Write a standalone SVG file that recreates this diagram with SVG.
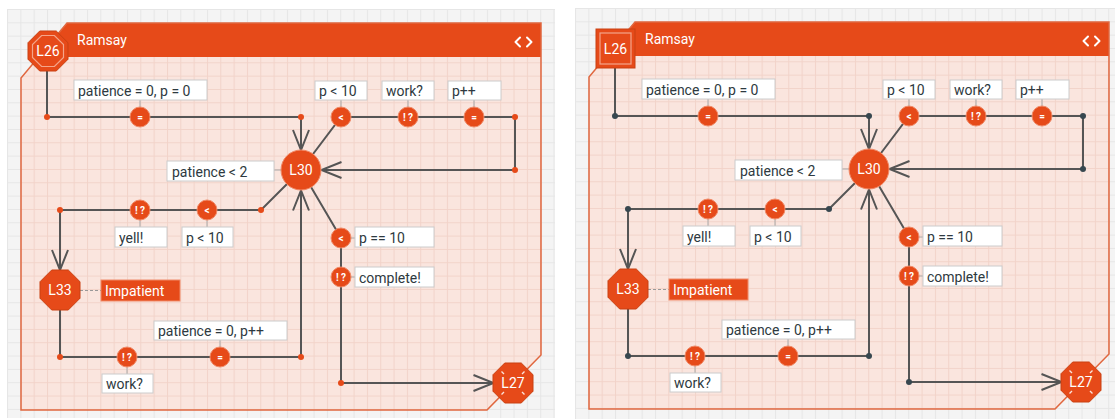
<svg xmlns="http://www.w3.org/2000/svg" width="1115" height="419" viewBox="0 0 1115 419">
<defs>
  <pattern id="gridGray" patternUnits="userSpaceOnUse" x="7" y="9" width="13.33" height="13.33">
    <rect width="13.33" height="13.33" fill="#f4f4f4"/>
    <path d="M0,0.5 H13.33 M0.5,0 V13.33" stroke="#e6e6e6" stroke-width="1"/>
  </pattern>
  <pattern id="gridPink" patternUnits="userSpaceOnUse" x="7" y="9" width="13.33" height="13.33">
    <rect width="13.33" height="13.33" fill="#fae5de"/>
    <path d="M0,0.5 H13.33 M0.5,0 V13.33" stroke="#f2d3c9" stroke-width="1"/>
  </pattern>
  <clipPath id="panelClip">
    <polygon points="67,23 541,23 541,355 487,410 21,410 21,78"/>
  </clipPath>
  <polygon id="oct" points="-8.28,-20 8.28,-20 20,-8.28 20,8.28 8.28,20 -8.28,20 -20,8.28 -20,-8.28"/>
  <polygon id="octIn" points="-6.4,-15.5 6.4,-15.5 15.5,-6.4 15.5,6.4 6.4,15.5 -6.4,15.5 -15.5,6.4 -15.5,-6.4"/>
  <marker id="arrow" markerUnits="userSpaceOnUse" viewBox="-22 -10 24 20" refX="0" refY="0" markerWidth="24" markerHeight="20" orient="auto" overflow="visible">
    <path d="M-20,-8 L0,0 L-20,8" fill="none" stroke="#555" stroke-width="2"/>
  </marker>
</defs>
<style>
  .canvas { fill: url(#gridGray); }
  .panel { fill: url(#gridPink); }
  .panel-edge { fill: none; stroke: #e0673f; stroke-width: 1.5; }
  .header { fill: #e64a19; }
  .title { fill: #ffffff; font-family: Roboto, "Liberation Sans", sans-serif; font-size: 14px; }
  .icon { fill: none; stroke: #ffffff; stroke-width: 2; stroke-linecap: round; stroke-linejoin: round; }
  .wire { fill: none; stroke: #555555; stroke-width: 2; }
  .head { marker-end: url(#arrow); }
  .dot-l { fill: #e64a19; }
  .dot-r { fill: #37474f; }
  .op > circle { fill: #e64a19; stroke: #f08a68; stroke-width: 1; }
  .op > text { fill: #ffffff; font-family: Roboto, "Liberation Sans", sans-serif; font-size: 10px; font-weight: bold; text-anchor: middle; }
  .lbl rect { fill: #ffffff; stroke: #cccccc; stroke-width: 1; }
  .lbl text { fill: #2e3940; font-family: Roboto, "Liberation Sans", sans-serif; font-size: 14px; font-weight: normal; text-anchor: start; }
  .tick { stroke: #a8a8a8; stroke-width: 1; }
  .dash { stroke: #999999; stroke-width: 1.2; stroke-dasharray: 3 2; }
  .state { fill: #e64a19; stroke: #c94112; stroke-width: 1; }
  .ring { fill: none; stroke: #f4a58a; stroke-width: 1.2; }
  .state-txt { fill: #ffffff; font-family: Roboto, "Liberation Sans", sans-serif; font-size: 14px; text-anchor: middle; }
  .tag rect { fill: #e64a19; stroke: #f08a68; stroke-width: 1; }
  .tag text { fill: #ffffff; font-family: Roboto, "Liberation Sans", sans-serif; font-size: 14px; }
  .spark { stroke: #ffffff; stroke-width: 1.4; opacity: 0.85; }
</style>

<rect width="1115" height="419" fill="#ffffff"/>

<!-- ===== Left machine: octagon start node, orange junctions ===== -->
<g id="left">
  <rect class="canvas" x="7" y="9" width="548" height="409"/>
  <polygon class="panel" points="67,23 541,23 541,355 487,410 21,410 21,78"/>
  <rect class="header" x="0" y="23" width="541" height="34" clip-path="url(#panelClip)"/>
  <polygon class="panel-edge" points="67,23 541,23 541,355 487,410 21,410 21,78"/>
  <text class="title" x="77" y="45">Ramsay</text>
  <path class="icon" d="M520,37.5 L515.5,42 L520,46.5 M527,37.5 L531.5,42 L527,46.5"/>

  <g id="left-connectors">
    <path class="wire head" d="M47,71 V117 H301 V150"/>
    <path class="wire head" d="M301,170 L341,117 H515 V170 H321.5"/>
    <path class="wire head" d="M301,170 L261,210 H60 V270"/>
    <path class="wire head" d="M60,310 V357 H301 V190.5"/>
    <path class="wire head" d="M301,170 L341,238 V383 H493.5"/>
    <circle class="dot-l" cx="47" cy="117" r="3"/>
    <circle class="dot-l" cx="301" cy="117" r="3"/>
    <circle class="dot-l" cx="515" cy="117" r="3"/>
    <circle class="dot-l" cx="515" cy="170" r="3"/>
    <circle class="dot-l" cx="261" cy="210" r="3"/>
    <circle class="dot-l" cx="60" cy="210" r="3"/>
    <circle class="dot-l" cx="60" cy="357" r="3"/>
    <circle class="dot-l" cx="301" cy="357" r="3"/>
    <circle class="dot-l" cx="341" cy="383" r="3"/>
  </g>

  <g id="left-L26">
    <use href="#oct" class="state" x="48" y="51"/>
    <use href="#octIn" class="ring" x="48" y="51"/>
    <text class="state-txt" x="48" y="56">L26</text>
  </g>

  <g id="left-L30">
    <line class="tick" x1="274" y1="170" x2="281" y2="170"/>
    <g class="lbl"><rect x="167" y="161" width="107" height="20"/><text x="172" y="176.5">patience &lt; 2</text></g>
    <circle class="state" cx="301" cy="170" r="20" style="stroke:#f08a68"/>
    <text class="state-txt" x="301" y="175">L30</text>
  </g>

  <g id="left-L33">
    <line class="dash" x1="80" y1="290.5" x2="101" y2="290.5"/>
    <use href="#oct" class="state" x="60" y="290"/>
    <text class="state-txt" x="60" y="295">L33</text>
    <g class="tag"><rect x="101" y="280" width="79" height="21"/><text x="105" y="296">Impatient</text></g>
  </g>

  <g id="left-L27">
    <use href="#oct" class="state" x="513" y="383"/>
    <path class="spark" d="M504,374 L501.5,371.5 M522,374 L524.5,371.5 M504,392 L501.5,394.5 M522,392 L524.5,394.5"/>
    <text class="state-txt" x="513" y="388">L27</text>
  </g>

  <g id="left-set-init" class="op">
    <line class="tick" x1="140" y1="100" x2="140" y2="107"/>
    <g class="lbl"><rect x="74" y="80" width="133" height="20"/><text x="78" y="95.5">patience = 0, p = 0</text></g>
    <circle cx="140" cy="117" r="10"/><text x="140" y="120.5">=</text>
  </g>
  <g id="left-guard-top" class="op">
    <line class="tick" x1="341" y1="100" x2="341" y2="107"/>
    <g class="lbl"><rect x="315" y="81" width="52" height="19"/><text x="319" y="95.5">p &lt; 10</text></g>
    <circle cx="341" cy="117" r="10"/><text x="341" y="120.5">&lt;</text>
  </g>
  <g id="left-event-work-top" class="op">
    <line class="tick" x1="408" y1="100" x2="408" y2="107"/>
    <g class="lbl"><rect x="382" y="81" width="52" height="19"/><text x="386" y="95.5">work?</text></g>
    <circle cx="408" cy="117" r="10"/><text x="408" y="120.5">! ?</text>
  </g>
  <g id="left-set-inc" class="op">
    <line class="tick" x1="474" y1="100" x2="474" y2="107"/>
    <g class="lbl"><rect x="448" y="81" width="53" height="19"/><text x="452" y="95.5">p++</text></g>
    <circle cx="474" cy="117" r="10"/><text x="474" y="120.5">=</text>
  </g>
  <g id="left-guard-mid" class="op">
    <line class="tick" x1="207" y1="220" x2="207" y2="227"/>
    <g class="lbl"><rect x="182" y="227" width="51" height="20"/><text x="186" y="242.5">p &lt; 10</text></g>
    <circle cx="207" cy="210" r="10"/><text x="207" y="213.5">&lt;</text>
  </g>
  <g id="left-event-yell" class="op">
    <line class="tick" x1="140" y1="220" x2="140" y2="227"/>
    <g class="lbl"><rect x="115" y="227" width="52" height="20"/><text x="119" y="242.5">yell!</text></g>
    <circle cx="140" cy="210" r="10"/><text x="140" y="213.5">! ?</text>
  </g>
  <g id="left-event-work-bottom" class="op">
    <line class="tick" x1="127" y1="367" x2="127" y2="374"/>
    <g class="lbl"><rect x="102" y="374" width="51" height="19"/><text x="106" y="388.5">work?</text></g>
    <circle cx="127" cy="357" r="10"/><text x="127" y="360.5">! ?</text>
  </g>
  <g id="left-set-reset" class="op">
    <line class="tick" x1="220" y1="340" x2="220" y2="347"/>
    <g class="lbl"><rect x="154" y="321" width="133" height="19"/><text x="158" y="335.5">patience = 0, p++</text></g>
    <circle cx="220" cy="357" r="10"/><text x="220" y="360.5">=</text>
  </g>
  <g id="left-guard-done" class="op">
    <line class="tick" x1="351" y1="238" x2="355" y2="238"/>
    <g class="lbl"><rect x="355" y="227" width="79" height="20"/><text x="359" y="242.5">p == 10</text></g>
    <circle cx="341" cy="238" r="10"/><text x="341" y="241.5">&lt;</text>
  </g>
  <g id="left-event-complete" class="op">
    <line class="tick" x1="351" y1="277" x2="355" y2="277"/>
    <g class="lbl"><rect x="355" y="267" width="79" height="20"/><text x="359" y="282.5">complete!</text></g>
    <circle cx="341" cy="277" r="10"/><text x="341" y="280.5">! ?</text>
  </g>
</g>

<!-- ===== Right machine: square start node, dark junctions ===== -->
<g id="right" transform="translate(568,-1)">
  <rect class="canvas" x="7" y="9" width="548" height="411"/>
  <polygon class="panel" points="67,23 541,23 541,355 487,410 21,410 21,78"/>
  <rect class="header" x="0" y="23" width="541" height="34" clip-path="url(#panelClip)"/>
  <polygon class="panel-edge" points="67,23 541,23 541,355 487,410 21,410 21,78"/>
  <text class="title" x="77" y="45">Ramsay</text>
  <path class="icon" d="M520,37.5 L515.5,42 L520,46.5 M527,37.5 L531.5,42 L527,46.5"/>

  <g id="right-connectors">
    <path class="wire head" d="M47,69 V117 H301 V150"/>
    <path class="wire head" d="M301,170 L341,117 H515 V170 H321.5"/>
    <path class="wire head" d="M301,170 L261,210 H60 V270"/>
    <path class="wire head" d="M60,310 V357 H301 V190.5"/>
    <path class="wire head" d="M301,170 L341,238 V383 H493.5"/>
    <circle class="dot-r" cx="47" cy="117" r="3"/>
    <circle class="dot-r" cx="301" cy="117" r="3"/>
    <circle class="dot-r" cx="515" cy="117" r="3"/>
    <circle class="dot-r" cx="515" cy="170" r="3"/>
    <circle class="dot-r" cx="261" cy="210" r="3"/>
    <circle class="dot-r" cx="60" cy="210" r="3"/>
    <circle class="dot-r" cx="60" cy="357" r="3"/>
    <circle class="dot-r" cx="301" cy="357" r="3"/>
    <circle class="dot-r" cx="341" cy="383" r="3"/>
  </g>

  <g id="right-L26">
    <rect class="state" x="28" y="30" width="39" height="39"/>
    <rect class="ring" x="32" y="34" width="31" height="31"/>
    <text class="state-txt" x="47.5" y="54.5">L26</text>
  </g>

  <g id="right-L30">
    <line class="tick" x1="274" y1="170" x2="281" y2="170"/>
    <g class="lbl"><rect x="167" y="161" width="107" height="20"/><text x="172" y="176.5">patience &lt; 2</text></g>
    <circle class="state" cx="301" cy="170" r="20" style="stroke:#f08a68"/>
    <text class="state-txt" x="301" y="175">L30</text>
  </g>

  <g id="right-L33">
    <line class="dash" x1="80" y1="290.5" x2="101" y2="290.5"/>
    <use href="#oct" class="state" x="60" y="290"/>
    <text class="state-txt" x="60" y="295">L33</text>
    <g class="tag"><rect x="101" y="280" width="79" height="21"/><text x="105" y="296">Impatient</text></g>
  </g>

  <g id="right-L27">
    <use href="#oct" class="state" x="513" y="383"/>
    <path class="spark" d="M504,374 L501.5,371.5 M522,374 L524.5,371.5 M504,392 L501.5,394.5 M522,392 L524.5,394.5"/>
    <text class="state-txt" x="513" y="388">L27</text>
  </g>

  <g id="right-set-init" class="op">
    <line class="tick" x1="140" y1="100" x2="140" y2="107"/>
    <g class="lbl"><rect x="74" y="80" width="133" height="20"/><text x="78" y="95.5">patience = 0, p = 0</text></g>
    <circle cx="140" cy="117" r="10"/><text x="140" y="120.5">=</text>
  </g>
  <g id="right-guard-top" class="op">
    <line class="tick" x1="341" y1="100" x2="341" y2="107"/>
    <g class="lbl"><rect x="315" y="81" width="52" height="19"/><text x="319" y="95.5">p &lt; 10</text></g>
    <circle cx="341" cy="117" r="10"/><text x="341" y="120.5">&lt;</text>
  </g>
  <g id="right-event-work-top" class="op">
    <line class="tick" x1="408" y1="100" x2="408" y2="107"/>
    <g class="lbl"><rect x="382" y="81" width="52" height="19"/><text x="386" y="95.5">work?</text></g>
    <circle cx="408" cy="117" r="10"/><text x="408" y="120.5">! ?</text>
  </g>
  <g id="right-set-inc" class="op">
    <line class="tick" x1="474" y1="100" x2="474" y2="107"/>
    <g class="lbl"><rect x="448" y="81" width="53" height="19"/><text x="452" y="95.5">p++</text></g>
    <circle cx="474" cy="117" r="10"/><text x="474" y="120.5">=</text>
  </g>
  <g id="right-guard-mid" class="op">
    <line class="tick" x1="207" y1="220" x2="207" y2="227"/>
    <g class="lbl"><rect x="182" y="227" width="51" height="20"/><text x="186" y="242.5">p &lt; 10</text></g>
    <circle cx="207" cy="210" r="10"/><text x="207" y="213.5">&lt;</text>
  </g>
  <g id="right-event-yell" class="op">
    <line class="tick" x1="140" y1="220" x2="140" y2="227"/>
    <g class="lbl"><rect x="115" y="227" width="52" height="20"/><text x="119" y="242.5">yell!</text></g>
    <circle cx="140" cy="210" r="10"/><text x="140" y="213.5">! ?</text>
  </g>
  <g id="right-event-work-bottom" class="op">
    <line class="tick" x1="127" y1="367" x2="127" y2="374"/>
    <g class="lbl"><rect x="102" y="374" width="51" height="19"/><text x="106" y="388.5">work?</text></g>
    <circle cx="127" cy="357" r="10"/><text x="127" y="360.5">! ?</text>
  </g>
  <g id="right-set-reset" class="op">
    <line class="tick" x1="220" y1="340" x2="220" y2="347"/>
    <g class="lbl"><rect x="154" y="321" width="133" height="19"/><text x="158" y="335.5">patience = 0, p++</text></g>
    <circle cx="220" cy="357" r="10"/><text x="220" y="360.5">=</text>
  </g>
  <g id="right-guard-done" class="op">
    <line class="tick" x1="351" y1="238" x2="355" y2="238"/>
    <g class="lbl"><rect x="355" y="227" width="79" height="20"/><text x="359" y="242.5">p == 10</text></g>
    <circle cx="341" cy="238" r="10"/><text x="341" y="241.5">&lt;</text>
  </g>
  <g id="right-event-complete" class="op">
    <line class="tick" x1="351" y1="277" x2="355" y2="277"/>
    <g class="lbl"><rect x="355" y="267" width="79" height="20"/><text x="359" y="282.5">complete!</text></g>
    <circle cx="341" cy="277" r="10"/><text x="341" y="280.5">! ?</text>
  </g>
</g>
</svg>
